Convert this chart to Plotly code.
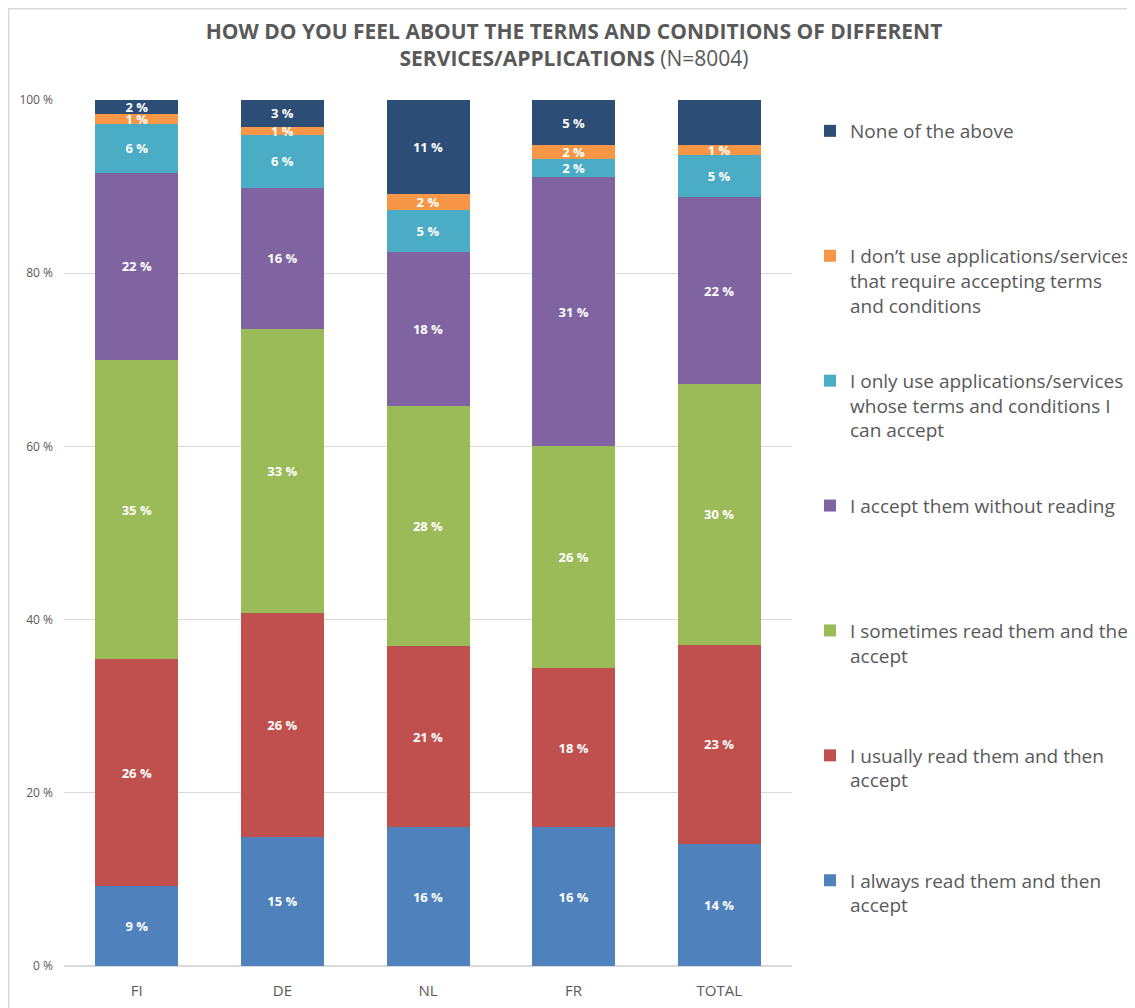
import plotly.graph_objects as go

categories = ["FI", "DE", "NL", "FR", "TOTAL"]

always_read = [9.2, 14.9, 16.0, 16.0, 14.1]
usually_read = [26.2, 25.9, 21.0, 18.4, 23.0]
sometimes_read = [34.6, 32.8, 27.7, 25.6, 30.1]
accept_without_reading = [21.6, 16.2, 17.8, 31.1, 21.6]
only_acceptable = [5.6, 6.2, 4.8, 2.1, 4.8]
dont_use = [1.2, 0.9, 1.8, 1.6, 1.2]
none_of_above = [1.6, 3.1, 10.9, 5.2, 5.2]

series_names = [
    "I always read them and then<br>accept",
    "I usually read them and then<br>accept",
    "I sometimes read them and then<br>accept",
    "I accept them without reading",
    "I only use applications/services<br>whose terms and conditions I<br>can accept",
    "I don’t use applications/services<br>that require accepting terms<br>and conditions",
    "None of the above",
]
series_values = [always_read, usually_read, sometimes_read, accept_without_reading,
                 only_acceptable, dont_use, none_of_above]
series_colors = ["#4F81BD", "#C0504D", "#9BBB59", "#8064A2", "#4BACC6", "#F79646", "#2C4D75"]

y_ticks = [0, 20, 40, 60, 80, 100]
y_tick_labels = ["0 %", "20 %", "40 %", "60 %", "80 %", "100 %"]

TXT = "#595959"
FONT = "Open Sans"

fig = go.Figure()
n = len(series_names)
for i, (name, vals, col) in enumerate(zip(series_names, series_values, series_colors)):
    nlines = name.count("<br>") + 1
    padded = name + "<br>\u00a0" * (3 - nlines)
    fig.add_trace(go.Bar(
        x=categories, y=vals, name=padded, marker=dict(color=col, line=dict(width=0)),
        texttemplate="%{y:.0f} %", textposition="inside", insidetextanchor="middle",
        textangle=0, textfont=dict(family=FONT, size=13, color="white", weight="bold"),
        legendgroup=f"g{i}", legendrank=n - i, cliponaxis=False,
    ))

# page body has an 8px margin: figure origin sits at (8, 8) on screen
W, H = 1127, 1000
L, R, T, B = 56, 343, 92, 42
pw, ph = W - L - R, H - T - B

def px_x(p):
    return (p - L) / pw

def px_y(p):
    return (H - B - p) / ph

fig.update_layout(
    width=W, height=H,
    margin=dict(l=L, r=R, t=T, b=B),
    barmode="stack", bargap=0.43,
    plot_bgcolor="white", paper_bgcolor="white",
    font=dict(family=FONT, color=TXT),
    uniformtext=dict(minsize=13, mode="show"),
    title=dict(
        text="<b>HOW DO YOU FEEL ABOUT THE TERMS AND CONDITIONS OF DIFFERENT<br>SERVICES/APPLICATIONS</b> (N=8004)",
        x=566 / W, xref="container", xanchor="center",
        y=1 - 31 / H, yref="container", yanchor="top",
        font=dict(family=FONT, size=21, color=TXT),
    ),
    xaxis=dict(
        tickfont=dict(family=FONT, size=15, color=TXT), showgrid=False,
        showline=False, ticks="", ticklabelstandoff=14, automargin=False,
    ),
    yaxis=dict(
        range=[0, 100], tickvals=y_ticks, ticktext=y_tick_labels,
        tickfont=dict(family=FONT, size=12, color=TXT),
        showgrid=True, gridcolor="#D9D9D9", gridwidth=1,
        zeroline=True, zerolinecolor="#D9D9D9", zerolinewidth=1.5,
        showline=False, ticks="", ticklabelstandoff=10, automargin=False,
    ),
    legend=dict(
        traceorder="grouped", tracegroupgap=47.8,
        x=802 / W, xref="container", xanchor="left",
        y=1 - 104 / H, yref="container", yanchor="top",
        font=dict(family=FONT, size=19, color=TXT),
        valign="top", bgcolor="rgba(0,0,0,0)", maxheight=900,
    ),
    shapes=[
        dict(type="line", xref="paper", yref="paper", x0=px_x(0.75), x1=px_x(0.75),
             y0=px_y(H + 5), y1=px_y(0), line=dict(color="#D9D9D9", width=1.5), layer="below"),
        dict(type="line", xref="paper", yref="paper", x0=px_x(0), x1=px_x(W + 5),
             y0=px_y(0.75), y1=px_y(0.75), line=dict(color="#D9D9D9", width=1.5), layer="below"),
    ],
)

fig.write_html("out.html")
